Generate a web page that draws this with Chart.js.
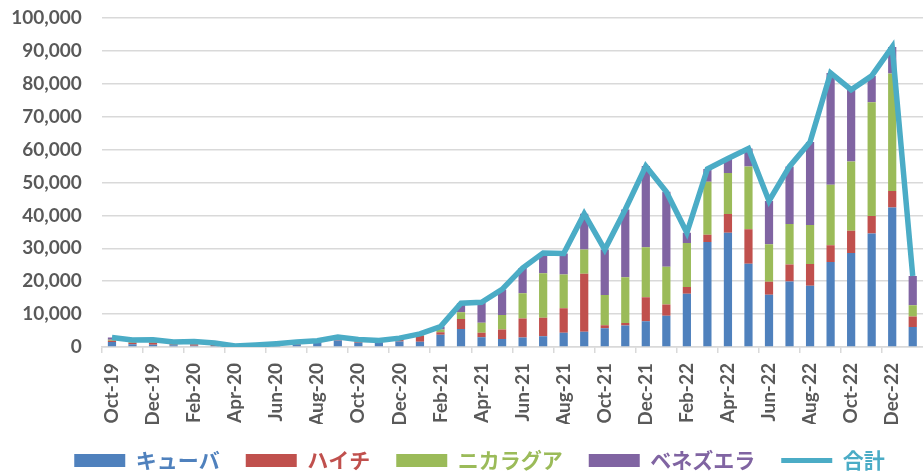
<!DOCTYPE html>
<html>
<head>
<meta charset="utf-8">
<script src="https://cdn.jsdelivr.net/npm/chart.js@4/dist/chart.umd.min.js"></script>
<style>
  html, body { margin: 0; padding: 0; background: #fff; overflow: hidden; }
  #wrap { position: relative; width: 923px; height: 472px; }
</style>
</head>
<body>
<div id="wrap"><canvas id="c"></canvas></div>
<script>
const labels = ['Oct-19','Nov-19','Dec-19','Jan-20','Feb-20','Mar-20','Apr-20','May-20','Jun-20','Jul-20','Aug-20','Sep-20','Oct-20','Nov-20','Dec-20','Jan-21','Feb-21','Mar-21','Apr-21','May-21','Jun-21','Jul-21','Aug-21','Sep-21','Oct-21','Nov-21','Dec-21','Jan-22','Feb-22','Mar-22','Apr-22','May-22','Jun-22','Jul-22','Aug-22','Sep-22','Oct-22','Nov-22','Dec-22','Jan-23'];

const cuba = [1500,800,700,500,400,300,100,200,400,700,1300,2000,1300,1300,1700,1600,3700,5500,3000,2400,2900,3300,4300,4600,5700,6500,7800,9500,16200,31900,34700,25300,15900,19900,18600,25800,28600,34500,42400,6100];
const haiti = [400,500,600,300,400,300,100,100,100,200,200,300,400,300,400,1800,800,3000,1300,2900,5800,5600,7500,17700,900,800,7300,3400,2000,2200,5700,10500,3900,5200,6600,5100,6700,5300,5000,3200];
const nicaragua = [300,200,300,200,300,200,50,200,300,400,200,400,300,200,300,300,800,2100,3100,4400,7600,13500,10200,7300,9200,13900,15200,11500,13400,16100,12500,19100,11400,12300,11900,18400,21100,34600,35700,3400];
const venezuela = [700,600,600,500,600,400,50,100,200,200,200,300,300,200,300,300,900,2700,6200,7800,7700,6200,6400,10900,13800,20600,24700,22800,3100,3900,4400,5400,13200,17500,25200,34000,21800,8000,8100,8900];
const total = [2900,2100,2200,1500,1700,1200,300,600,1000,1500,1900,3000,2300,2000,2700,4000,6200,13300,13600,17500,24000,28600,28400,40500,29600,41800,55000,47200,34700,54100,57300,60300,44400,54900,62300,83300,78200,82400,91200,21600];

const seriesNames = ['キューバ','ハイチ','ニカラグア','ベネズエラ','合計'];
const colors = ['#4F81BD','#C0504D','#9BBB59','#8064A2','#4BACC6'];

const yTicks = { min: 0, max: 100000, step: 10000 };

const tickFont = { family: 'Lato, "Liberation Sans", sans-serif', size: 19, weight: 'bold' };
const gridGray = '#d9d9d9';

function barSet(i, data) {
  return {
    type: 'bar', label: seriesNames[i], data: data,
    backgroundColor: colors[i], borderWidth: 0,
    stack: 'bars', order: 1,
    categoryPercentage: 1.0, barPercentage: 0.4
  };
}

const legendShift = {
  id: 'legendShift',
  afterLayout: function(chart) {
    if (chart.legend) { chart.legend.left = 36; }
  }
};

new Chart(document.getElementById('c'), {
  data: {
    labels: labels,
    datasets: [
      barSet(0, cuba), barSet(1, haiti), barSet(2, nicaragua), barSet(3, venezuela),
      {
        type: 'line', label: seriesNames[4], data: total,
        borderColor: colors[4], backgroundColor: colors[4], borderWidth: 5.5,
        pointRadius: 0, tension: 0, stack: 'total', order: 0,
        borderJoinStyle: 'miter', fill: false
      }
    ]
  },
  plugins: [legendShift],
  options: {
    responsive: true,
    maintainAspectRatio: false,
    animation: false,
    layout: { padding: { top: 18, left: 0, right: 0, bottom: -9 } },
    plugins: {
      tooltip: { enabled: false },
      legend: {
        position: 'bottom',
        labels: {
          usePointStyle: true,
          pointStyleWidth: 51,
          boxHeight: 13,
          padding: 26,
          font: { family: '"Noto Sans CJK JP", sans-serif', size: 21, weight: 'bold' },
          generateLabels: function(chart) {
            return chart.data.datasets.map(function(ds, i) {
              const isLine = ds.type === 'line';
              return {
                text: ds.label,
                fillStyle: colors[i],
                strokeStyle: colors[i],
                lineWidth: isLine ? 5 : 0,
                pointStyle: isLine ? 'line' : 'rect',
                fontColor: colors[i],
                hidden: false,
                datasetIndex: i
              };
            });
          }
        }
      }
    },
    scales: {
      x: {
        stacked: true,
        offset: true,
        grid: {
          display: true, drawOnChartArea: false, offset: true, tickLength: 6,
          lineWidth: 1.5,
          color: function(ctx) { return (ctx.index % 2 === 0) ? gridGray : 'rgba(0,0,0,0)'; }
        },
        border: { display: true, color: gridGray, width: 1.5 },
        ticks: {
          autoSkip: false, maxRotation: 90, minRotation: 90, padding: 10,
          color: '#595959', font: tickFont,
          callback: function(v, i) { return i % 2 === 0 ? labels[i] : ''; }
        },
        afterFit: function(s) { s.height = 77; s.paddingLeft = 0; s.paddingRight = 0; }
      },
      y: {
        stacked: true,
        min: yTicks.min, max: yTicks.max,
        grid: { color: gridGray, lineWidth: 1.5, drawTicks: false },
        border: { display: false },
        ticks: {
          stepSize: yTicks.step, padding: 20, color: '#595959', font: tickFont,
          callback: function(v) { return Number(v).toLocaleString('en-US'); }
        },
        afterFit: function(s) { s.width = 101.7; s.paddingTop = 0; s.paddingBottom = 0; }
      }
    }
  }
});
</script>
</body>
</html>
